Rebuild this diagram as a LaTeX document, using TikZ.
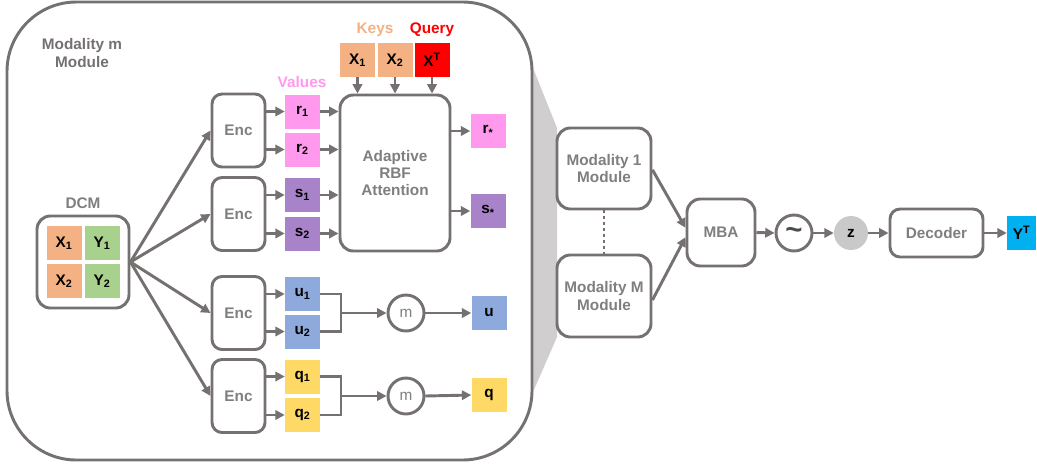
\documentclass[tikz,border=0pt]{standalone}
\usepackage{fontspec}
\setmainfont{Liberation Sans}
\usetikzlibrary{arrows.meta,shapes.geometric}
\definecolor{lg}{HTML}{767171}
\definecolor{txg}{HTML}{7F7F7F}
\definecolor{orng}{HTML}{F4B183}
\definecolor{grn}{HTML}{A9D18E}
\definecolor{pnk}{HTML}{FF99EE}
\definecolor{prp}{HTML}{A983C9}
\definecolor{blu}{HTML}{8EA9DB}
\definecolor{ylw}{HTML}{FFD966}
\definecolor{cyn}{HTML}{00B0F0}
\definecolor{zg}{HTML}{C9C9C9}
\definecolor{fun}{HTML}{D0CECE}
\begin{document}
\begin{tikzpicture}[x=0.75pt,y=-0.75pt,
  every node/.style={font=\fontsize{11.5pt}{13pt}\selectfont\bfseries},
  ln/.style={draw=lg,line width=2.2pt},
  arr/.style={lg,line width=2.2pt,-{Triangle[length=7pt,width=7pt]}},
  cell/.style={minimum width=26.25pt,minimum height=25.5pt,inner sep=0pt,text=black},
  rbox/.style={ln,rounded corners=7.5pt,fill=white,text=txg,inner sep=0pt,align=center},
  circ/.style={ln,circle,inner sep=0pt,minimum size=27pt},
  lab/.style={inner sep=0pt}
]
\useasboundingbox (0,0) rectangle (1037,465);
% funnel and module frame
\fill[fun] (533,68) -- (557,128) -- (557,337) -- (533,392) -- cycle;
\draw[ln,fill=white,rounded corners=52pt] (7,2) rectangle (532,460);

\node[lab,text=lg,align=center] (title) at (82,53) {Modality m\\Module};
\node[lab,text=txg] (dcmlab) at (83,203) {DCM};
\node[lab,text=pnk] (vallab) at (302,82) {Values};
\node[lab,text=orng] (keylab) at (375,30) {Keys};
\node[lab,text=red] (qlab) at (432,30) {Query};

% DCM
\node[rbox,minimum width=69pt,minimum height=69pt,rounded corners=10pt] (dcm) at (83,262) {};
\node[cell,fill=orng] (dx1) at (64,243) {X\textsubscript{1}};
\node[cell,fill=grn] (dy1) at (102,243) {Y\textsubscript{1}};
\node[cell,fill=orng] (dx2) at (64,281) {X\textsubscript{2}};
\node[cell,fill=grn] (dy2) at (102,281) {Y\textsubscript{2}};

% encoders
\foreach \n/\y in {e1/130.5,e2/214,e3/313,e4/396}
  \node[rbox,minimum width=39.75pt,minimum height=54.75pt] (\n) at (238.5,\y) {Enc};

% value cells
\node[cell,fill=pnk] (r1) at (302.5,111.5) {r\textsubscript{1}};
\node[cell,fill=pnk] (r2) at (302.5,149.5) {r\textsubscript{2}};
\node[cell,fill=prp] (s1) at (302.5,195) {s\textsubscript{1}};
\node[cell,fill=prp] (s2) at (302.5,233.5) {s\textsubscript{2}};
\node[cell,fill=blu] (u1) at (302.5,294) {u\textsubscript{1}};
\node[cell,fill=blu] (u2) at (302.5,331.5) {u\textsubscript{2}};
\node[cell,fill=ylw] (q1) at (302.5,376.5) {q\textsubscript{1}};
\node[cell,fill=ylw] (q2) at (302.5,415) {q\textsubscript{2}};

% attention
\node[rbox,minimum width=82.5pt,minimum height=117pt,rounded corners=10pt] (att) at (395,173) {Adaptive\\RBF\\Attention};
\node[cell,fill=orng] (k1) at (357.5,60) {X\textsubscript{1}};
\node[cell,fill=orng] (k2) at (395,60) {X\textsubscript{2}};
\node[cell,fill=red] (kq) at (432,60) {X\textsuperscript{T}};
\node[cell,fill=pnk] (rs) at (488,131) {r\textsubscript{*}};
\node[cell,fill=prp] (ss) at (488,211) {s\textsubscript{*}};

% mean nodes
\node[circ,text=txg,font=\fontsize{11.5pt}{13pt}\selectfont] (m1) at (406,313) {m};
\node[circ,text=txg,font=\fontsize{11.5pt}{13pt}\selectfont] (m2) at (406,396) {m};
\node[cell,fill=blu] (uu) at (489,313) {u};
\node[cell,fill=ylw] (qq) at (489,395) {q};
\coordinate (ub) at (341,313);
\coordinate (qb) at (341,396);

% right part
\node[rbox,minimum width=70.5pt,minimum height=60.75pt,rounded corners=10pt] (mod1) at (604,168.5) {Modality 1\\Module};
\node[rbox,minimum width=70.5pt,minimum height=61.5pt,rounded corners=10pt] (modM) at (604,296) {Modality M\\Module};
\node[rbox,minimum width=51pt,minimum height=50.25pt,rounded corners=10pt] (mba) at (721,232.5) {MBA};
\node[circ,text=black!70] (til) at (794,233) {\fontsize{22pt}{22pt}\selectfont\raisebox{-1pt}{\textasciitilde}};
\node[circle,fill=zg,inner sep=0pt,minimum size=25.5pt,text=black] (z) at (851,233) {z};
\node[rbox,minimum width=69.75pt,minimum height=36pt] (dec) at (936.5,233) {Decoder};
\node[cell,fill=cyn,minimum width=21.75pt] (yt) at (1021.5,233) {Y\textsuperscript{T}};

% connectors
\foreach \e in {e1,e2,e3,e4} \draw[arr] (dcm.east) -- (\e.west);
\foreach \e/\c in {e1/r1,e1/r2,e2/s1,e2/s2,e3/u1,e3/u2,e4/q1,e4/q2}
  \draw[arr] (\e.east |- \c) -- (\c.west);
\foreach \c in {r1,r2,s1,s2} \draw[arr] (\c.east) -- (att.west |- \c);
\foreach \k in {k1,k2,kq} \draw[arr] (\k.south) -- (\k.south |- att.north);
\foreach \c in {rs,ss} \draw[arr] (att.east |- \c) -- (\c.west);
\draw[ln] (u1.east) -- (ub |- u1) -- (ub |- u2) -- (u2.east);
\draw[ln] (q1.east) -- (qb |- q1) -- (qb |- q2) -- (q2.east);
\draw[arr] (ub) -- (m1.west);
\draw[arr] (qb) -- (m2.west);
\draw[arr] (m1.east) -- (uu.west);
\draw[arr] (m2.east) -- (qq.west);

\draw[lg,line width=2.2pt,dash pattern=on 2.2pt off 2.2pt] (mod1.south) -- (modM.south |- modM.north);
\draw[arr] ([yshift=-1pt]mod1.east) -- ([yshift=3.5pt]mba.west);
\draw[arr] ([yshift=-3pt]modM.east) -- ([yshift=-3.5pt]mba.west);
\draw[arr] (mba.east) -- (til.west);
\draw[arr] (til.east) -- (z.west);
\draw[arr] (z.east) -- (dec.west);
\draw[arr] (dec.east) -- (yt.west);
\end{tikzpicture}
\end{document}
